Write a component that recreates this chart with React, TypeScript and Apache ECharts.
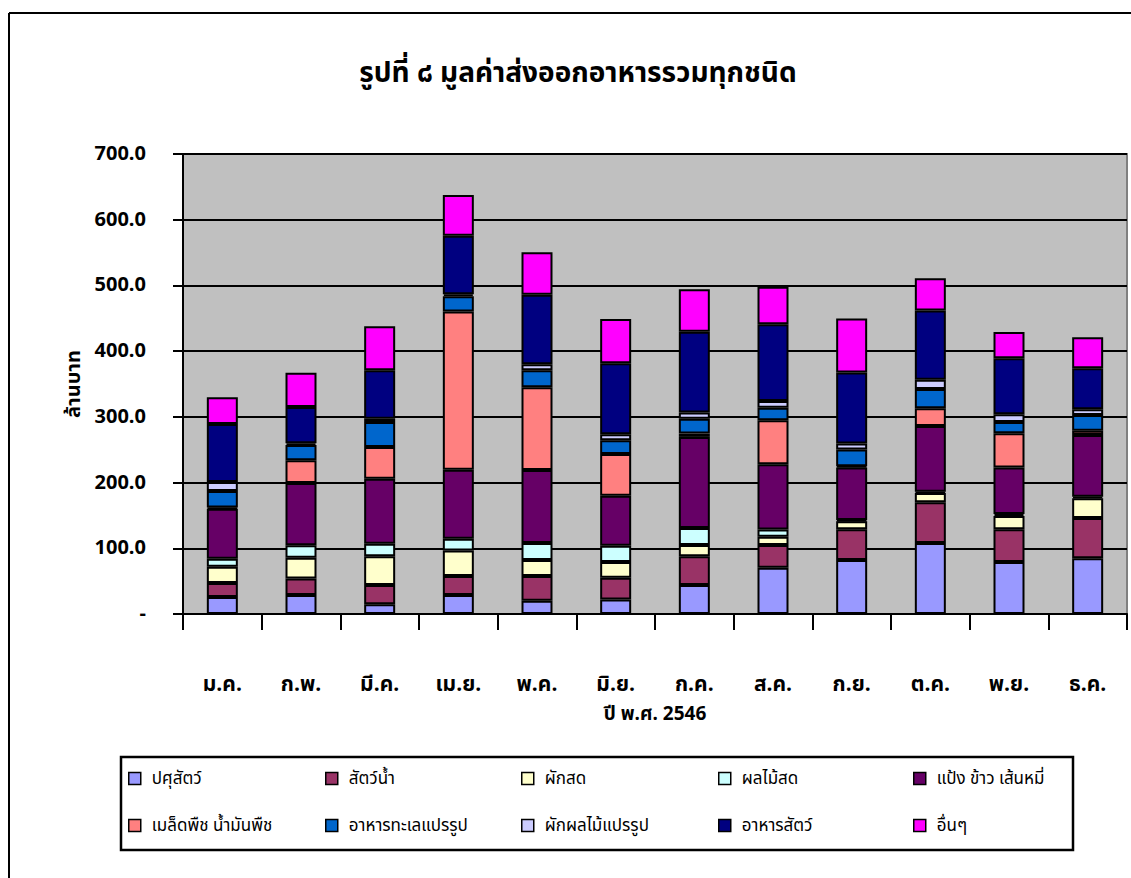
import React, { useEffect, useRef } from "react";
import * as echarts from "echarts";

const months = ["ม.ค.", "ก.พ.", "มี.ค.", "เม.ย.", "พ.ค.", "มิ.ย.", "ก.ค.", "ส.ค.", "ก.ย.", "ต.ค.", "พ.ย.", "ธ.ค."];

const livestock = [26, 29, 15, 29, 20, 22, 44, 70.5, 82, 108, 79, 85];
const aquatic = [21, 25, 29, 29, 38, 33, 44, 34.5, 47, 62, 50, 61];
const freshVeg = [25, 31.5, 44, 38.5, 24, 24, 17, 12.5, 12, 14, 20, 30];
const freshFruit = [12, 19, 19, 18, 26, 25, 26, 11, 2, 2, 3, 2.5];
const flour = [76, 95, 99, 105, 111, 76, 138.5, 99.5, 80, 100, 71, 94];
const seeds = [2, 34.5, 48, 241, 126, 63.5, 5, 67, 2, 27, 52, 6.5];
const seafood = [25, 23, 38, 23, 26, 21, 22.5, 19, 25.5, 29.5, 17, 24];
const processedVeg = [14, 3, 5, 3, 9, 9, 9.5, 10, 9, 14, 12, 8.5];
const feed = [88, 55, 74, 89, 106, 108, 123, 117, 108, 105.5, 85, 62.5];
const others = [41, 52, 67, 62, 64.5, 67.5, 64.5, 57, 82, 49, 40, 47];

const seriesNames = [
  "ปศุสัตว์",
  "สัตว์น้ำ",
  "ผักสด",
  "ผลไม้สด",
  "แป้ง ข้าว เส้นหมี่",
  "เมล็ดพืช น้ำมันพืช",
  "อาหารทะเลแปรรูป",
  "ผักผลไม้แปรรูป",
  "อาหารสัตว์",
  "อื่นๆ",
];
const seriesData = [livestock, aquatic, freshVeg, freshFruit, flour, seeds, seafood, processedVeg, feed, others];
const seriesColors = ["#9999FF", "#993366", "#FFFFCC", "#CCFFFF", "#660066", "#FF8080", "#0066CC", "#CCCCFF", "#000080", "#FF00FF"];

const yTicks = [0, 100, 200, 300, 400, 500, 600, 700];

const FONT = "Tahoma, 'Noto Sans Thai', 'Noto Sans', sans-serif";

export default function App() {
  const ref = useRef<HTMLDivElement>(null);
  useEffect(() => {
    if (!ref.current) return;
    const chart = echarts.init(ref.current, null, { renderer: "svg" });
    const legendCols = [128, 325, 521, 718, 913];
    const legendRows = [770, 817];
    const legends = seriesNames.map((name, i) => ({
      data: [name],
      left: legendCols[i % 5],
      top: legendRows[Math.floor(i / 5)],
      padding: 0,
      itemWidth: 12,
      itemHeight: 12,
      icon: "rect",
      selectedMode: false,
      itemStyle: { borderColor: "#000", borderWidth: 1.5 },
      textStyle: { fontFamily: FONT, fontSize: 17, color: "#000", padding: [0, 0, 0, 6] },
    }));
    chart.setOption({
      animation: false,
      backgroundColor: "#fff",
      textStyle: { fontFamily: FONT },
      title: {
        text: "รูปที่ ๘ มูลค่าส่งออกอาหารรวมทุกชนิด",
        left: 573,
        top: 54,
        textAlign: "center",
        textStyle: { fontFamily: FONT, fontSize: 28, fontWeight: "bold", color: "#000" },
      },
      legend: legends,
      grid: {
        left: 183,
        top: 154,
        right: 4,
        bottom: 264,
        show: true,
        backgroundColor: "#C0C0C0",
        borderColor: "#808080",
        borderWidth: 2,
      },
      xAxis: {
        type: "category",
        data: months,
        name: "ปี พ.ศ. 2546",
        nameLocation: "middle",
        nameGap: 91,
        nameTextStyle: { fontFamily: FONT, fontSize: 19, fontWeight: "bold", color: "#000" },
        axisLine: { lineStyle: { color: "#000", width: 2 } },
        axisTick: { show: true, interval: 0, length: 16, lineStyle: { color: "#000", width: 2 } },
        axisLabel: { margin: 60, fontFamily: FONT, fontSize: 21, fontWeight: "bold", color: "#000", interval: 0 },
        splitLine: { show: false },
      },
      yAxis: {
        type: "value",
        min: yTicks[0],
        max: yTicks[yTicks.length - 1],
        interval: 100,
        name: "ล้านบาท",
        nameLocation: "middle",
        nameRotate: 90,
        nameGap: 96,
        nameTextStyle: { fontFamily: FONT, fontSize: 20, fontWeight: "bold", color: "#000" },
        axisLine: { show: true, lineStyle: { color: "#000", width: 2 } },
        axisTick: { show: true, length: 10, lineStyle: { color: "#000", width: 2 } },
        axisLabel: {
          margin: 37,
          fontFamily: FONT,
          fontSize: 20,
          fontWeight: "bold",
          color: "#000",
          formatter: (v: number) => (v === 0 ? "-" : v.toFixed(1)),
        },
        splitLine: { show: true, lineStyle: { color: "#000", width: 2 } },
      },
      series: seriesNames.map((name, i) => ({
        name,
        type: "bar",
        stack: "total",
        data: seriesData[i],
        barWidth: 31,
        itemStyle: { color: seriesColors[i], borderColor: "#000", borderWidth: 2 },
      })),
      graphic: [
        { type: "line", shape: { x1: 9, y1: 13, x2: 1131, y2: 13 }, style: { stroke: "#000", lineWidth: 2 }, z: 100 },
        { type: "line", shape: { x1: 9, y1: 13, x2: 9, y2: 878 }, style: { stroke: "#000", lineWidth: 2 }, z: 100 },
        {
          type: "rect",
          shape: { x: 121, y: 757, width: 952, height: 93 },
          style: { fill: "none", stroke: "#000", lineWidth: 2.5 },
          z: 100,
        },
      ],
    });
    return () => chart.dispose();
  }, []);
  return <div ref={ref} style={{ position: "absolute", left: 0, top: 0, width: 1131, height: 878 }} />;
}
